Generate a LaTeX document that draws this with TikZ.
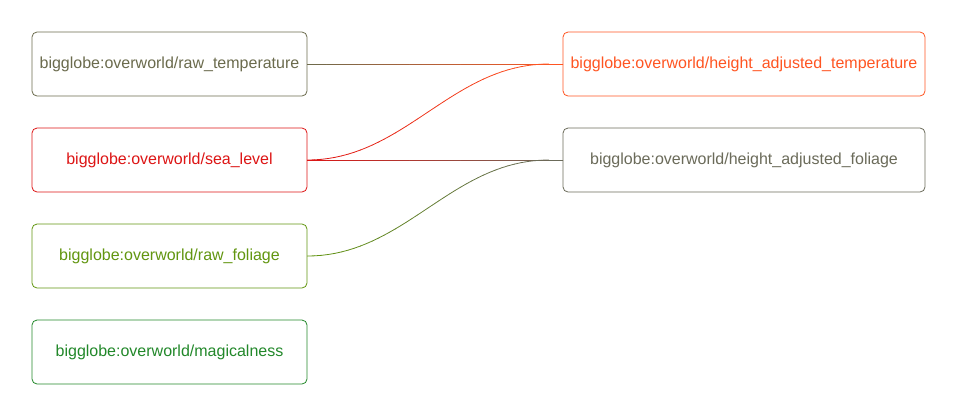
\documentclass[tikz,border=0pt]{standalone}
\usepackage{fontspec}
\setmainfont{Liberation Sans}
\usetikzlibrary{calc}
\definecolor{ctemp}{RGB}{107,107,77}
\definecolor{csea}{RGB}{221,21,21}
\definecolor{cfol}{RGB}{98,150,16}
\definecolor{cmag}{RGB}{34,136,42}
\definecolor{chtemp}{RGB}{255,85,34}
\definecolor{chfol}{RGB}{107,107,90}
\newcommand\gradline[4]{%
  \foreach \i in {0,...,39}{%
    \pgfmathsetmacro\ta{\i/40}\pgfmathsetmacro\tb{(\i+1)/40}%
    \pgfmathtruncatemacro\p{100-100*(\i+0.5)/40}%
    \draw[conn,color=#3!\p!#4] ($(#1.east)!\ta!(#2.west)$) -- ($(#1.east)!\tb!(#2.west)$);}}
\newcommand\gradcurve[4]{%
  \coordinate (cend) at ([xshift=-14pt]#2.west);
  \foreach \i in {0,...,39}{%
    \pgfmathsetmacro\ta{\i/40}\pgfmathsetmacro\tb{(\i+1)/40}%
    \pgfmathsetmacro\sa{3*\ta*\ta-2*\ta*\ta*\ta}\pgfmathsetmacro\sb{3*\tb*\tb-2*\tb*\tb*\tb}%
    \pgfmathsetmacro\da{3*\ta*(1-\ta)*(1-2*\ta)*97}\pgfmathsetmacro\db{3*\tb*(1-\tb)*(1-2*\tb)*97}%
    \pgfmathtruncatemacro\p{100-100*(\i+0.5)/40}%
    \draw[conn,color=#3!\p!#4] ($(#1.east)!\sa!(cend) + (\da,0)$) -- ($(#1.east)!\sb!(cend) + (\db,0)$);}
  \draw[conn,#4] (cend) -- (#2.west);}
\begin{document}
\begin{tikzpicture}[x=1pt,y=-1pt,
  box/.style={draw=#1, text=#1, fill=white, rounded corners=5pt, minimum height=64pt, inner sep=0pt,
    font=\fontsize{16}{19}\selectfont, line width=0.8pt},
  lbox/.style={box=#1, minimum width=275pt},
  rbox/.style={box=#1, minimum width=362pt},
  conn/.style={line width=0.8pt, line cap=round}]
\useasboundingbox (0,0) rectangle (957,416);
\node[lbox=ctemp] (rt) at (169.5,64) {bigglobe:overworld/raw\_temperature};
\node[lbox=csea] (sl) at (169.5,160) {bigglobe:overworld/sea\_level};
\node[lbox=cfol] (rf) at (169.5,256) {bigglobe:overworld/raw\_foliage};
\node[lbox=cmag] (mg) at (169.5,352) {bigglobe:overworld/magicalness};
\node[rbox=chtemp] (ht) at (744,64) {bigglobe:overworld/height\_adjusted\_temperature};
\node[rbox=chfol] (hf) at (744,160) {bigglobe:overworld/height\_adjusted\_foliage};
\gradline{rt}{ht}{ctemp}{chtemp}
\gradline{sl}{hf}{csea}{chfol}
\gradcurve{sl}{ht}{csea}{chtemp}
\gradcurve{rf}{hf}{cfol}{chfol}
\end{tikzpicture}
\end{document}
